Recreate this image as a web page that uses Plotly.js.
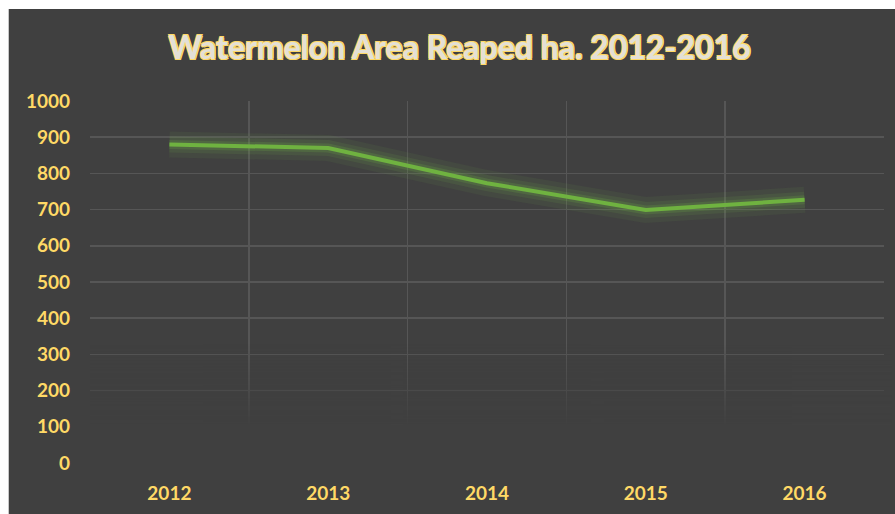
<!DOCTYPE html>
<html>
<head>
<meta charset="utf-8">
<script src="https://cdn.plot.ly/plotly-3.0.1.min.js"></script>
<style>
html,body{margin:0;padding:0;background:#ffffff;}
#chart{position:absolute;left:8px;top:9px;width:887px;height:505px;border-left:1px solid #c8c8c8;box-sizing:border-box;}
</style>
</head>
<body>
<div id="chart"></div>
<script>
const years = ['2012', '2013', '2014', '2015', '2016'];
const areaReaped = [880, 870, 773, 699, 727];
const yTicks = [0, 100, 200, 300, 400, 500, 600, 700, 800, 900, 1000];

// decorative fade of the gridlines toward the bottom (Excel-style gradient)
function fadeImage() {
  const c = document.createElement('canvas');
  c.width = 4; c.height = 200;
  const g = c.getContext('2d');
  const grad = g.createLinearGradient(0, 0, 0, 200);
  grad.addColorStop(0, 'rgba(64,64,64,0)');
  grad.addColorStop(0.35, 'rgba(64,64,64,0.45)');
  grad.addColorStop(0.68, 'rgba(64,64,64,1)');
  grad.addColorStop(1, 'rgba(64,64,64,1)');
  g.fillStyle = grad;
  g.fillRect(0, 0, 4, 200);
  return c.toDataURL();
}

const glow = {
  x: years, y: areaReaped, type: 'scatter', mode: 'lines',
  line: {color: 'rgba(112,173,71,0.08)', width: 26},
  hoverinfo: 'skip', showlegend: false
};
const glow2 = {
  x: years, y: areaReaped, type: 'scatter', mode: 'lines',
  line: {color: 'rgba(112,173,71,0.12)', width: 16},
  hoverinfo: 'skip', showlegend: false
};
const glow3 = {
  x: years, y: areaReaped, type: 'scatter', mode: 'lines',
  line: {color: 'rgba(112,173,71,0.2)', width: 9},
  hoverinfo: 'skip', showlegend: false
};
const main = {
  x: years, y: areaReaped, type: 'scatter', mode: 'lines',
  line: {color: '#6fb240', width: 4},
  showlegend: false
};

const tickFont = {family: 'Lato, "Open Sans", sans-serif', size: 19, color: '#FFD966', weight: 700};

const layout = {
  paper_bgcolor: '#404040',
  plot_bgcolor: '#404040',
  margin: {l: 81, r: 12, t: 92, b: 51},
  showlegend: false,
  title: {
    text: 'Watermelon Area Reaped ha. 2012-2016',
    x: 0.508, xanchor: 'center', xref: 'container',
    y: 0.923, yanchor: 'middle', yref: 'container',
    font: {family: 'Lato, "Open Sans", sans-serif', size: 32, weight: 700, color: '#e3e0d6',
      shadow: '1px 1px 0 #FFD966, -1px -1px 0 #FFD966, 1px -1px 0 #FFD966, -1px 1px 0 #FFD966'}
  },
  xaxis: {
    type: 'category', range: [-0.5, 4.5],
    showgrid: true, gridcolor: '#565656', gridwidth: 1.6, tickson: 'boundaries',
    ticks: '', showline: false, zeroline: false,
    tickfont: tickFont, ticklabelstandoff: 17
  },
  yaxis: {
    range: [0, 1000], tickvals: yTicks, ticktext: yTicks.map(String),
    showgrid: true, gridcolor: '#565656', gridwidth: 1.6,
    ticks: '', showline: false, zeroline: false,
    tickfont: tickFont, ticklabelstandoff: 19
  },
  images: [{
    source: fadeImage(), xref: 'paper', yref: 'y',
    x: 0, y: 330, sizex: 1.01, sizey: 332, xanchor: 'left', yanchor: 'top',
    sizing: 'stretch', layer: 'above'
  }]
};

Plotly.newPlot('chart', [glow, glow2, glow3, main], layout, {displayModeBar: false, staticPlot: true});
</script>
</body>
</html>
